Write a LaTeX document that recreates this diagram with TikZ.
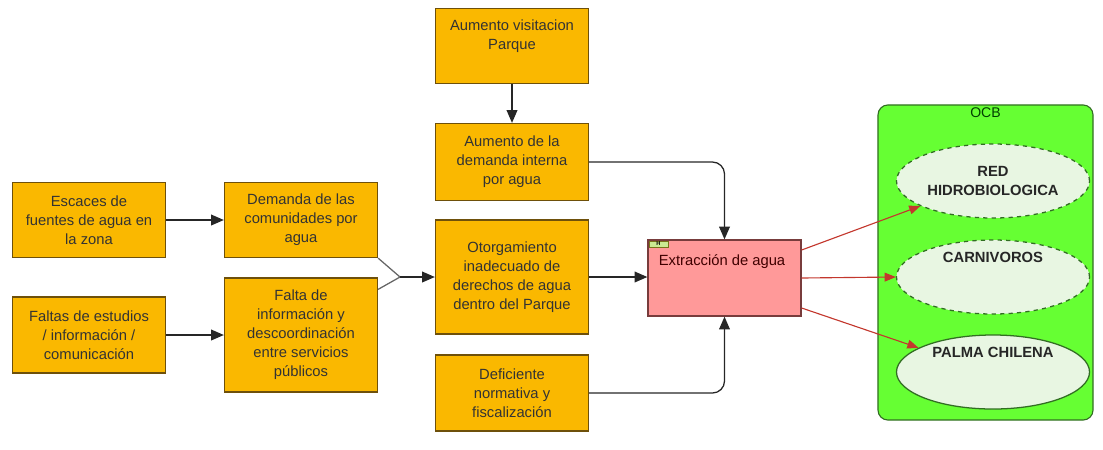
\documentclass[tikz,border=0pt]{standalone}
\usepackage{fontspec}
\setmainfont{Liberation Sans}
\usepackage{xcolor}
\usetikzlibrary{arrows.meta,shapes.geometric}

\definecolor{cajafill}{RGB}{250,184,0}
\definecolor{cajaborde}{RGB}{110,80,10}
\definecolor{rosa}{RGB}{255,153,153}
\definecolor{rosaborde}{RGB}{120,60,60}
\definecolor{verde}{RGB}{102,255,51}
\definecolor{verdeborde}{RGB}{50,110,35}
\definecolor{elipse}{RGB}{232,246,226}
\definecolor{rojo}{RGB}{195,55,45}

\tikzset{
  caja/.style = {draw = cajaborde, fill = cajafill, line width = 0.9pt, minimum width = 3.825cm,
    align = center, inner sep = 2pt, text = black!80,
    font = \fontsize{10.5}{13.5}\selectfont},
  ovalo/.style = {ellipse, draw = verdeborde, fill = elipse, line width = 0.9pt, minimum width = 4.825cm,
    minimum height = 1.85cm, align = center, inner sep = 1pt, text = black!85,
    font = \fontsize{10.5}{13.5}\selectfont\bfseries},
  negra/.style = {draw = black!85, line width = 0.9pt, -{Triangle[length = 0.32cm, width = 0.27cm]}},
  roja/.style = {draw = rojo, line width = 0.8pt, -{Triangle[length = 0.28cm, width = 0.22cm]}}
}

\begin{document}
\begin{tikzpicture}[x = 0.025cm, y = -0.025cm]
    \useasboundingbox (0, 0) rectangle (1103, 449);

    {
      \node[caja, minimum height = 1.875cm] (escaces) at (89, 220) {Escaces de\\fuentes de agua en\\la zona};
      \node[caja, minimum height = 1.9cm] (faltas) at (89, 335) {Faltas de estudios\\/ informaci\'on /\\comunicaci\'on};
    }
    {
      \node[caja, minimum height = 1.875cm] (demanda) at (301, 220) {Demanda de las\\comunidades por\\agua};
      \node[caja, minimum height = 2.85cm] (falta) at (301, 335) {Falta de\\informaci\'on y\\descoordinaci\'on\\entre servicios\\p\'ublicos};
    }
    {
      \node[caja, minimum height = 1.875cm] (visita) at (512, 46) {Aumento visitacion\\Parque\\[-2pt]\strut};
      \node[caja, minimum height = 1.925cm] (interna) at (512, 162) {Aumento de la\\demanda interna\\por agua};
      \node[caja, minimum height = 2.85cm] (otorga) at (512, 277) {Otorgamiento\\inadecuado de\\derechos de agua\\dentro del Parque};
      \node[caja, minimum height = 1.9cm] (normativa) at (512, 393) {Deficiente\\normativa y\\fiscalizaci\'on};
    }

    \node[draw = rosaborde, fill = rosa, line width = 0.9pt, minimum width = 3.825cm, minimum height = 1.9cm] (extraccion) at (724.5, 278) {};
    \node[text = black!75!red, font = \fontsize{10.5}{13.5}\selectfont] (textoext) at (722, 262) {Extracci\'on de agua};
    \node[draw = olive!80!black, fill = yellow!55!green!45, font = \fontsize{4}{4}\selectfont\bfseries,
      inner sep = 0pt, minimum width = 0.475cm, minimum height = 0.16cm] (marca) at (658.5, 244) {H};

    \node[draw = verdeborde, fill = verde, line width = 0.8pt, rounded corners = 0.25cm, minimum width = 5.375cm,
      minimum height = 7.875cm, label = {[anchor = north, inner sep = 2pt, text = green!25!black,
      font = \fontsize{10}{12}\selectfont]north:OCB}] (ocb) at (985.5, 262.5) {};
    \node[ovalo, dashed] (red) at (993, 181) {RED\\HIDROBIOLOGICA};
    \node[ovalo, dashed] (carnivoros) at (993, 277) {CARNIVOROS\\[10pt]\strut};
    \node[ovalo] (palma) at (993, 372) {PALMA CHILENA\\[10pt]\strut};

    \coordinate (union) at (400, 277);
    \draw[negra] (escaces) -- (demanda);
    \draw[negra] (faltas) -- (faltas -| falta.west);
    \draw[negra] (visita) -- (interna);
    \draw[draw = black!60, line width = 0.9pt] (demanda.south east) -- (union);
    \draw[draw = black!60, line width = 0.9pt] ([yshift = -0.3cm]falta.north east) -- (union);
    \draw[negra] (union) -- (otorga.west |- union);
    \draw[negra] (otorga.east) -- (otorga.east -| extraccion.west);
    \draw[negra, rounded corners = 0.3cm] (interna.east) -| (extraccion.north);
    \draw[negra, rounded corners = 0.3cm] (normativa.east) -| (extraccion.south);

    \draw[roja] ([yshift = 0.7cm]extraccion.east) -- (red.199);
    \draw[roja] (extraccion.east) -- (carnivoros.west);
    \draw[roja] ([yshift = -0.75cm]extraccion.east) -- (palma.162);
  \end{tikzpicture}
\end{document}
